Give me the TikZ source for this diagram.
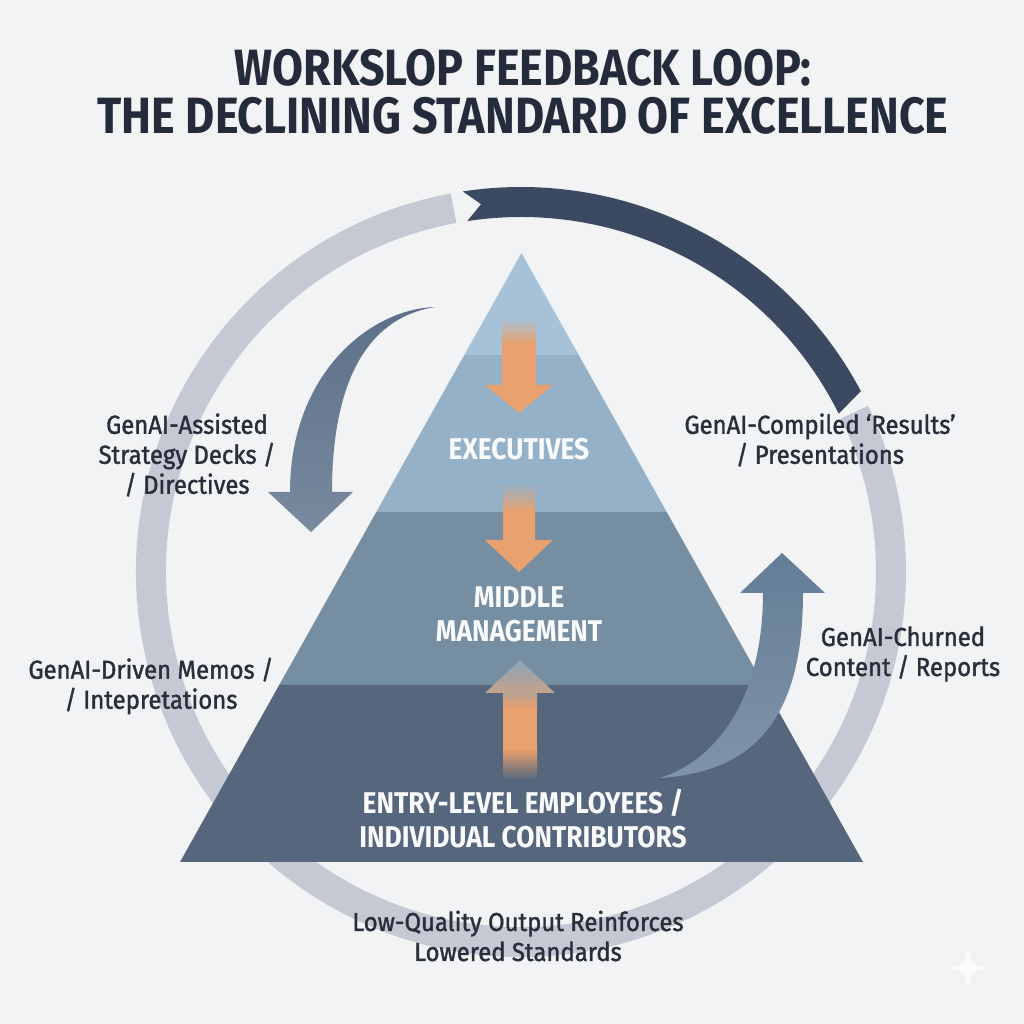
\documentclass[tikz,border=0pt]{standalone}
\usepackage{fontspec}
\setmainfont{Fira Sans}
\newfontfamily\titlefont[FakeStretch=0.88]{Fira Sans}
\newfontfamily\tierfont[FakeStretch=0.88]{Fira Sans}
\newfontfamily\labelfont[FakeStretch=0.92,FakeBold=1.4]{Fira Sans}
\usepackage{tikz}

\definecolor{bgcol}{RGB}{242,243,244}
\definecolor{titlecol}{RGB}{36,43,58}
\definecolor{labelcol}{RGB}{40,46,58}
\definecolor{loopdark}{RGB}{59,74,96}
\definecolor{ringgrey}{RGB}{196,201,211}
\definecolor{tiptier}{RGB}{166,194,216}
\definecolor{exectier}{RGB}{149,177,199}
\definecolor{midtier}{RGB}{117,142,161}
\definecolor{basetier}{RGB}{85,102,125}
\definecolor{orangearr}{RGB}{233,161,111}
\definecolor{headgrey}{RGB}{140,164,184}
\definecolor{downarr}{RGB}{92,112,137}
\definecolor{uparr}{RGB}{100,125,150}

\begin{document}
\begin{tikzpicture}[x=0.5pt,y=0.5pt]
  \tikzset{TitleStyle/.style = {
    text          = titlecol,
    align         = center,
    inner sep     = 0pt,
    font          = {\titlefont\bfseries\fontsize{25.5pt}{24pt}\selectfont}
    }
  }
  \tikzset{TierStyle/.style = {
    text          = white!94!exectier,
    align         = center,
    inner sep     = 0pt,
    font          = {\tierfont\bfseries\fontsize{15pt}{17pt}\selectfont}
    }
  }
  \tikzset{LabelStyle/.style = {
    text          = labelcol,
    align         = center,
    inner sep     = 0pt,
    font          = {\labelfont\fontsize{13pt}{15pt}\selectfont}
    }
  }
  \tikzset{RingStyle/.style = {
    draw          = ringgrey,
    line width    = 15pt
    }
  }
  \tikzset{BlueArrowStyle/.style = {
    top color     = #1,
    bottom color  = #1!82!white,
    draw          = none
    }
  }

  \useasboundingbox (0,0) rectangle (1024,1024);
  \fill[bgcol] (0,0) rectangle (1024,1024);

  % outer loop
  \coordinate (C) at (521,452);
  \draw[RingStyle] ([shift={(C)}]100.5:370) arc[start angle=100.5, end angle=385.6, radius=370];
  \fill[loopdark] ([shift={(C)}]98.7:385) arc[start angle=98.7, end angle=28, radius=385]
    -- ([shift={(C)}]26.5:355) arc[start angle=26.5, end angle=98.7, radius=355]
    -- ([shift={(C)}]96.2:370) -- cycle;

  % pyramid
  \fill[tiptier] (521.5,771) -- (578.7,669) -- (464.3,669) -- cycle;
  \fill[exectier] (464.3,669) -- (578.7,669) -- (666.7,512) -- (376.3,512) -- cycle;
  \fill[midtier] (376.3,512) -- (666.7,512) -- (763.8,339) -- (279.2,339) -- cycle;
  \fill[basetier] (279.2,339) -- (763.8,339) -- (863,162) -- (180,162) -- cycle;

  % orange arrows
  \shade[top color=tiptier, bottom color=orangearr] (502,706) rectangle (536,680);
  \fill[orangearr] (502,680) -- (502,639) -- (485,639) -- (519,611) -- (553,639) -- (536,639) -- (536,680) -- cycle;
  \shade[top color=exectier, bottom color=orangearr] (503,541) rectangle (535,512);
  \fill[orangearr] (503,512) -- (503,484) -- (485,484) -- (519,452) -- (553,484) -- (535,484) -- (535,512) -- cycle;
  \shade[top color=headgrey, bottom color=orangearr!60!headgrey] (485,331) -- (520,364) -- (555,331) -- cycle;
  \shade[top color=orangearr!50!headgrey, bottom color=orangearr] (503,331) rectangle (537,315);
  \fill[orangearr] (503,315) rectangle (537,275);
  \shade[top color=orangearr, bottom color=basetier] (503,275) rectangle (537,244);

  % curved arrows
  \shade[BlueArrowStyle=downarr] (435,717) .. controls (370,715) and (290,650) .. (290,532)
    -- (268,532) -- (311,492) -- (353,532) -- (332,532)
    .. controls (332,630) and (360,705) .. (435,717) -- cycle;
  \shade[BlueArrowStyle=uparr] (660,246) .. controls (750,252) and (803,300) .. (803,431)
    -- (825,431) -- (782,471) -- (740,431) -- (763,431)
    .. controls (763,330) and (720,265) .. (660,246) -- cycle;

  % texts
  \node[TitleStyle](T1) at (523,932) {WORKSLOP FEEDBACK LOOP:\\THE DECLINING STANDARD OF EXCELLENCE};

  \node[TierStyle](P1) at (519,575) {EXECUTIVES};
  \node[TierStyle](P2) at (519,410) {MIDDLE\\MANAGEMENT};
  \node[TierStyle](P3) at (523,205) {ENTRY-LEVEL EMPLOYEES /\\INDIVIDUAL CONTRIBUTORS};

  \node[LabelStyle](L1) at (187,569) {GenAI-Assisted\\Strategy Decks /\\/ Directives};
  \node[LabelStyle](L2) at (820,584) {GenAI-Compiled ‘Results’\\/ Presentations};
  \node[LabelStyle](L3) at (903,370) {GenAI-Churned\\Content / Reports};
  \node[LabelStyle](L4) at (151,338) {GenAI-Driven Memos /\\/ Intepretations};
  \node[LabelStyle](L5) at (518,88) {Low-Quality Output Reinforces\\Lowered Standards};

  % mark
  \fill[white, opacity=0.6] (968,81) .. controls (970,62) and (973,58) .. (992,56)
    .. controls (973,54) and (970,50) .. (968,31) .. controls (966,50) and (963,54) .. (944,56)
    .. controls (963,58) and (966,62) .. (968,81) -- cycle;
\end{tikzpicture}
\end{document}
